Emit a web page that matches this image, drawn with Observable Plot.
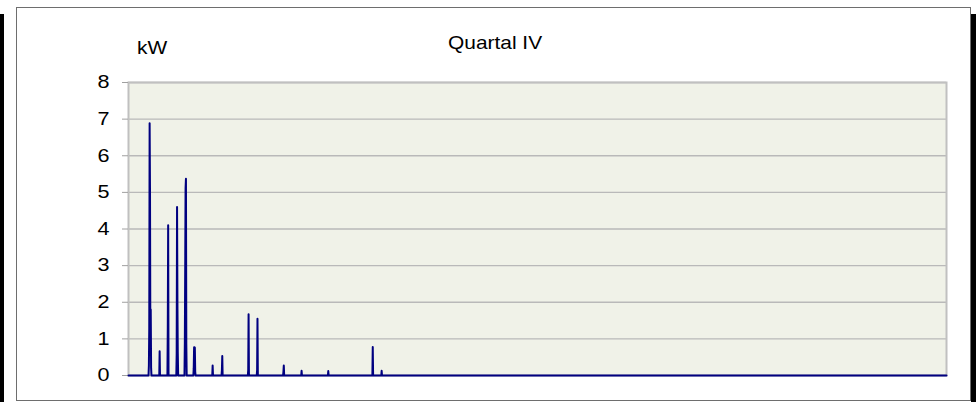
<!DOCTYPE html>
<html>
<head>
<meta charset="utf-8">
<script src="https://cdn.jsdelivr.net/npm/d3@7"></script>
<script src="https://cdn.jsdelivr.net/npm/@observablehq/plot@0.6"></script>
<style>
  html, body { margin: 0; padding: 0; background: #fff; }
  #wrap { position: relative; width: 976px; height: 402px; overflow: hidden; font-family: "Liberation Sans", Arial, sans-serif; }
  .bar { position: absolute; background: #000; }
  #frame { position: absolute; left: 16px; top: 7px; width: 953px; height: 392px; border: 1px solid #6e6e6e; box-sizing: content-box; }
  .lbl { position: absolute; font-size: 19px; color: #000; white-space: nowrap; transform-origin: left top; transform: scaleX(1.1); }
  #chart { position: absolute; left: 0; top: 0; }
</style>
</head>
<body>
<div id="wrap">
  <div id="frame"></div>
  <div class="bar" style="left:0;top:14px;width:4px;height:388px"></div>
  <div class="bar" style="left:971px;top:14px;width:5px;height:388px"></div>
  <div id="chart"></div>
  <div class="lbl" id="unit" style="left:137px;top:37px">kW</div>
  <div class="lbl" id="title" style="left:448px;top:32px">Quartal IV</div>
</div>
<script>
// Hours of the quarter (Q4 = 92 days) and the non-zero readings in kW
const totalHours = 2208;
const spikeHours = [55, 56, 57, 58, 59, 60, 61,
                    84,
                    106, 107,
                    130, 131, 132, 133,
                    152, 153, 154, 155, 156,
                    176, 177, 178, 179, 180,
                    227,
                    252, 253,
                    323, 324,
                    347, 348,
                    418, 419,
                    467,
                    539,
                    659,
                    683];
const spikeKW = [0.27, 1.3, 6.89, 5.1, 0.9, 1.8, 0.2,
                 0.66,
                 1.3, 4.1,
                 0.6, 4.6, 2.0, 0.6,
                 0.9, 2.95, 5.12, 5.37, 0.85,
                 0.2, 0.77, 0.77, 0.76, 0.1,
                 0.27,
                 0.15, 0.53,
                 0.15, 1.67,
                 0.15, 1.55,
                 0.1, 0.27,
                 0.13,
                 0.12,
                 0.78,
                 0.13];
const yTicks = [0, 1, 2, 3, 4, 5, 6, 7, 8];

const lookup = new Map(spikeHours.map((h, i) => [h, spikeKW[i]]));
const series = d3.range(totalHours).map(h => ({hour: h, kw: lookup.get(h) ?? 0}));

const chart = Plot.plot({
  width: 976,
  height: 402,
  marginLeft: 128,
  marginRight: 30,
  marginTop: 82,
  marginBottom: 27,
  style: {fontFamily: '"Liberation Sans", Arial, sans-serif', fontSize: "18px", color: "#000", background: "transparent"},
  x: {domain: [0, totalHours - 1], axis: null},
  y: {domain: [0, 8], ticks: yTicks, tickSize: 6, tickPadding: 13, label: null, tickFormat: d => String(d)},
  marks: [
    Plot.frame({fill: "#f0f2e8", stroke: "none"}),
    Plot.ruleY(yTicks.filter(d => d > 0), {stroke: "#b9b9b9", strokeWidth: 1.3}),
    Plot.frame({stroke: "#c0c0c0", strokeWidth: 2, fill: "none"}),
    Plot.axisY({ticks: yTicks, tickSize: 6, tickPadding: 13, stroke: "#a0a0a0", tickFormat: d => String(d), label: null}),
    Plot.line(series, {x: "hour", y: "kw", stroke: "#000080", strokeWidth: 2})
  ]
});
document.getElementById("chart").appendChild(chart);

// widen tick labels to match the reference's stretched lettering
d3.select(chart).selectAll('[aria-label="y-axis tick label"] text').each(function() {
  const x = parseFloat(this.getAttribute("x")) || 0;
  const t = this.getAttribute("transform") || "";
  this.setAttribute("transform", `${t} translate(${x},0) scale(1.2,1) translate(${-x},0)`);
});
</script>
</body>
</html>
